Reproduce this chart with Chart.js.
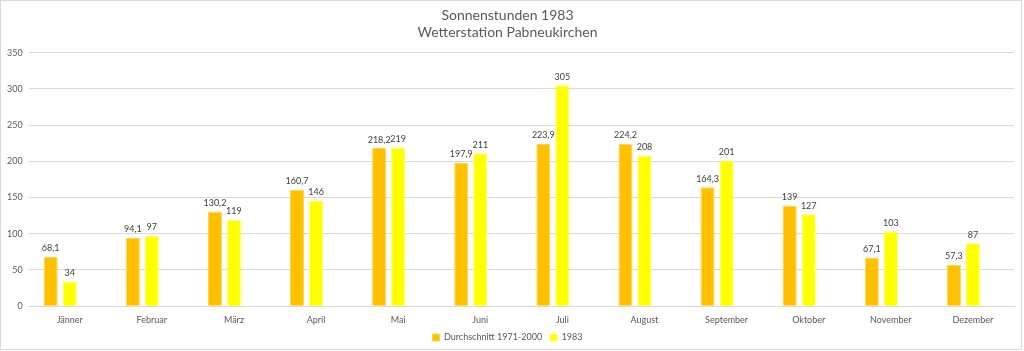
<!DOCTYPE html>
<html>
<head>
<meta charset="utf-8">
<script src="https://cdn.jsdelivr.net/npm/chart.js@4/dist/chart.umd.min.js"></script>
<style>
  body { margin: 0; background: #fff; }
  #wrap { position: absolute; left: 0; top: 0; width: 1020px; height: 348px; border: 1px solid #d9d9d9; }
</style>
</head>
<body>
<div id="wrap"><canvas id="sun"></canvas></div>
<script>
const months = ['Jänner', 'Februar', 'März', 'April', 'Mai', 'Juni', 'Juli', 'August', 'September', 'Oktober', 'November', 'Dezember']
const avg7100 = [68.1, 94.1, 130.2, 160.7, 218.2, 197.9, 223.9, 224.2, 164.3, 139, 67.1, 57.3]
const year1983 = [34, 97, 119, 146, 219, 211, 305, 208, 201, 127, 103, 87]
// Excel chart had an empty third series, keeps the bars off-centre
const emptySeries = [null, null, null, null, null, null, null, null, null, null, null, null]

const fontFam = 'Lato, "Liberation Sans", sans-serif'
const txtColor = '#595959'

const valueLabels = {
    id: 'valueLabels',
    afterDatasetsDraw(chart) {
        const ctx = chart.ctx
        ctx.save()
        ctx.font = '9px ' + fontFam
        ctx.fillStyle = '#404040'
        ctx.textAlign = 'center'
        ctx.textBaseline = 'bottom'
        chart.data.datasets.forEach((ds, i) => {
            const meta = chart.getDatasetMeta(i)
            meta.data.forEach((bar, j) => {
                const v = ds.data[j]
                if (v == null) return
                ctx.fillText(String(v).replace('.', ','), bar.x, bar.y - 4)
            })
        })
        ctx.restore()
    }
}

const data = {
    labels: months,
    datasets: [
        { label: 'Durchschnitt 1971-2000', data: avg7100, backgroundColor: '#FFC000', borderColor: '#FFD54F', borderWidth: 1 },
        { label: '1983', data: year1983, backgroundColor: '#FFFF00', borderColor: '#FFFF66', borderWidth: 1 },
        { label: '', data: emptySeries, backgroundColor: 'rgba(0,0,0,0)' }
    ]
}

const config = {
    type: 'bar',
    data: data,
    plugins: [valueLabels],
    options: {
        responsive: true,
        maintainAspectRatio: false,
        animation: false,
        datasets: { bar: { categoryPercentage: 0.695, barPercentage: 0.74 } },
        layout: { padding: { left: 0, right: 7, top: 6, bottom: -3 } },
        plugins: {
            title: {
                display: true,
                text: ['Sonnenstunden 1983', 'Wetterstation Pabneukirchen'],
                color: txtColor,
                font: { family: fontFam, size: 14, weight: 'normal', lineHeight: 1.2 },
                padding: { top: 0, bottom: 12 }
            },
            legend: {
                position: 'bottom',
                labels: {
                    color: txtColor,
                    font: { family: fontFam, size: 9 },
                    boxWidth: 7,
                    boxHeight: 7,
                    padding: 8,
                    filter: item => item.text !== ''
                }
            },
            tooltip: { enabled: false }
        },
        scales: {
            x: {
                grid: { display: false },
                border: { color: '#d9d9d9' },
                ticks: { color: txtColor, font: { family: fontFam, size: 9 }, padding: 0 }
            },
            y: {
                min: 0,
                max: 350,
                ticks: { stepSize: 50, color: txtColor, font: { family: fontFam, size: 9 }, padding: 6 },
                grid: { color: '#d9d9d9', drawTicks: false },
                border: { display: false }
            }
        }
    }
}

new Chart(document.getElementById('sun'), config)
</script>
</body>
</html>
